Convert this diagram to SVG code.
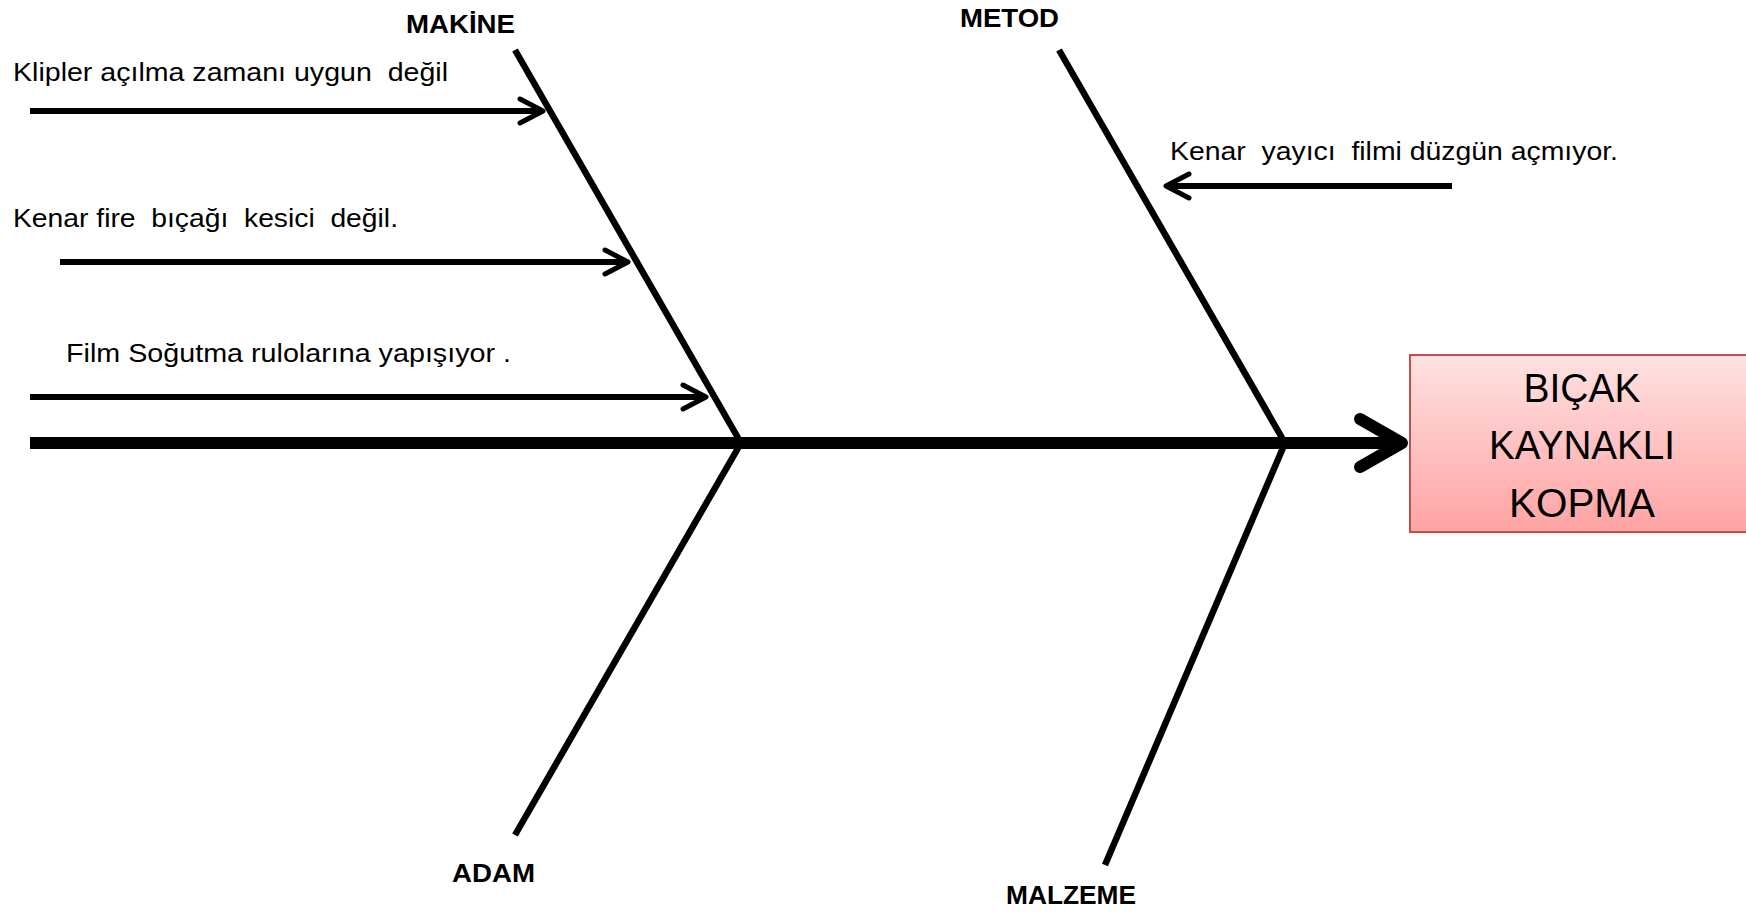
<svg xmlns="http://www.w3.org/2000/svg" width="1746" height="912" viewBox="0 0 1746 912">
<style>
.bone{stroke:#000;stroke-width:6.5;fill:none;stroke-linecap:butt}
.spine{stroke:#000;stroke-width:12;fill:none}
.cause{stroke:#000;stroke-width:6;fill:none}
.head{stroke:#000;stroke-width:5;fill:none;stroke-linecap:round;stroke-linejoin:round}
.lbl{font-family:"Liberation Sans",Arial,sans-serif;font-weight:bold;font-size:25px;fill:#000}
.txt{font-family:"Liberation Sans",Arial,sans-serif;font-size:25px;fill:#000;white-space:pre}
.box{font-family:"Liberation Sans",Arial,sans-serif;font-size:40px;fill:#000;text-anchor:middle}
</style>
<defs>
<linearGradient id="g" x1="0" y1="0" x2="0" y2="1">
<stop offset="0" stop-color="#FFE2E2"/>
<stop offset="1" stop-color="#FFA3A3"/>
</linearGradient>
</defs>
<rect width="1746" height="912" fill="#fff"/>
<g id="connectors">
<line class="spine" x1="30" y1="443" x2="1398" y2="443"/>
<polyline points="1360,419 1402,443 1360,467" fill="none" stroke="#000" stroke-width="12" stroke-linecap="round" stroke-linejoin="round"/>
<line class="bone" x1="515" y1="50" x2="741" y2="443"/>
<line class="bone" x1="741" y1="443" x2="515" y2="835"/>
<line class="bone" x1="1059" y1="50" x2="1285" y2="443"/>
<line class="bone" x1="1285" y1="443" x2="1105" y2="865"/>
<line class="cause" x1="30" y1="111" x2="541" y2="111"/>
<polyline class="head" points="520,99 543,111 520,123"/>
<line class="cause" x1="60" y1="262" x2="626" y2="262"/>
<polyline class="head" points="605,250 628,262 605,274"/>
<line class="cause" x1="30" y1="397" x2="704" y2="397"/>
<polyline class="head" points="683,385 706,397 683,409"/>
<line class="cause" x1="1452" y1="186" x2="1168" y2="186"/>
<polyline class="head" points="1189,174 1166,186 1189,198"/>
</g>
<g id="node-makine"><text class="lbl" x="406" y="33" textLength="109" lengthAdjust="spacingAndGlyphs">MAKİNE</text></g>
<g id="node-metod"><text class="lbl" x="960" y="27" textLength="99" lengthAdjust="spacingAndGlyphs">METOD</text></g>
<g id="node-adam"><text class="lbl" x="452" y="882" textLength="83" lengthAdjust="spacingAndGlyphs">ADAM</text></g>
<g id="node-malzeme"><text class="lbl" x="1006" y="904" textLength="130" lengthAdjust="spacingAndGlyphs">MALZEME</text></g>
<g id="cause-1"><text class="txt" x="13" y="81" xml:space="preserve" textLength="435" lengthAdjust="spacingAndGlyphs">Klipler açılma zamanı uygun  değil</text></g>
<g id="cause-2"><text class="txt" x="13" y="227" xml:space="preserve" textLength="385" lengthAdjust="spacingAndGlyphs">Kenar fire  bıçağı  kesici  değil.</text></g>
<g id="cause-3"><text class="txt" x="66" y="362" xml:space="preserve" textLength="445" lengthAdjust="spacingAndGlyphs">Film Soğutma rulolarına yapışıyor .</text></g>
<g id="cause-4"><text class="txt" x="1170" y="160" xml:space="preserve" textLength="448" lengthAdjust="spacingAndGlyphs">Kenar  yayıcı  filmi düzgün açmıyor.</text></g>
<g id="node-effect">
<rect x="1410" y="355" width="345" height="177" fill="url(#g)" stroke="#C0504D" stroke-width="2"/>
<text class="box" x="1582" y="402" textLength="117" lengthAdjust="spacingAndGlyphs">BIÇAK</text>
<text class="box" x="1582" y="459" textLength="186" lengthAdjust="spacingAndGlyphs">KAYNAKLI</text>
<text class="box" x="1582" y="517" textLength="146" lengthAdjust="spacingAndGlyphs">KOPMA</text>
</g>
</svg>
